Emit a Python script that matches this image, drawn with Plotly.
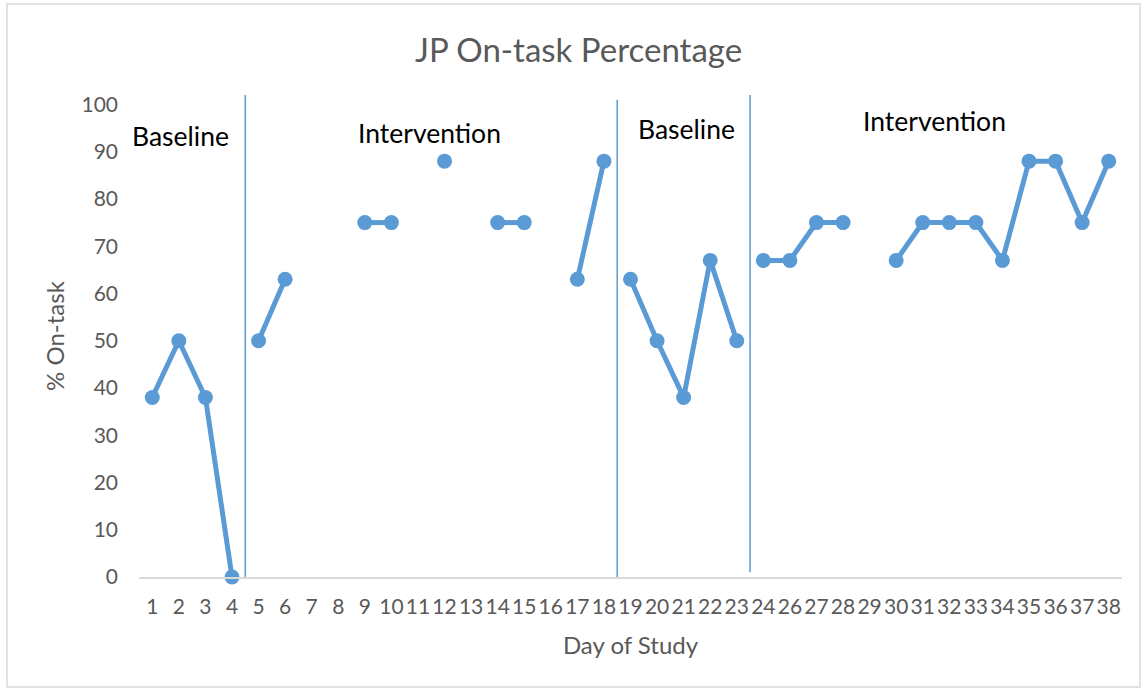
import plotly.graph_objects as go

# day labels on the category axis (day 25 is absent in the source)
days = [str(d) for d in list(range(1, 25)) + list(range(26, 39))]

# on-task percentage per phase, None = no observation
baseline1_days = ["1", "2", "3", "4"]
baseline1_vals = [38, 50, 38, 0]

intervention1_days = [str(d) for d in range(5, 19)]
intervention1_vals = [50, 63, None, None, 75, 75, None, 88, None, 75, 75, None, 63, 88]

baseline2_days = ["19", "20", "21", "22", "23"]
baseline2_vals = [63, 50, 38, 67, 50]

intervention2_days = [str(d) for d in [24, 26, 27, 28, 29, 30, 31, 32, 33, 34, 35, 36, 37, 38]]
intervention2_vals = [67, 67, 75, 75, None, 67, 75, 75, 75, 67, 88, 88, 75, 88]

phase_names = ["Baseline", "Intervention", "Baseline", "Intervention"]

BLUE = "#5b9bd5"
GREY = "#595959"
FONT = "Lato, 'Open Sans', sans-serif"

fig = go.Figure()
for xs, ys in [(baseline1_days, baseline1_vals), (intervention1_days, intervention1_vals),
               (baseline2_days, baseline2_vals), (intervention2_days, intervention2_vals)]:
    fig.add_trace(go.Scatter(
        x=xs, y=ys, mode="lines+markers", connectgaps=False, cliponaxis=False,
        line=dict(color=BLUE, width=5), marker=dict(color=BLUE, size=15),
        showlegend=False))

# phase change lines between the last day of one phase and the first of the next
line_tops = [102, 101, 102]
line_bottoms = [0, 0, 1]
for i, first_day in enumerate([intervention1_days[0], baseline2_days[0], intervention2_days[0]]):
    xpos = days.index(first_day) - 0.5
    fig.add_shape(type="line", xref="x", yref="y", x0=xpos, x1=xpos,
                  y0=line_bottoms[i], y1=line_tops[i], line=dict(color=BLUE, width=1.5))

# phase labels
label_x = [1.05, 10.45, 20.1, 29.45]
label_y = [93.4, 93.9, 94.9, 96.4]
for name, lx, ly in zip(phase_names, label_x, label_y):
    fig.add_annotation(x=lx, y=ly, xref="x", yref="y", text=name, showarrow=False,
                       font=dict(family=FONT, size=26.5, color="black"))

# light chart border
fig.add_shape(type="rect", xref="paper", yref="paper",
              x0=-0.1343, x1=1.0183, y0=-0.2282, y1=1.1888,
              line=dict(color="#d9d9d9", width=1.5), fillcolor="rgba(0,0,0,0)")

fig.update_layout(
    width=1148, height=691,
    margin=dict(l=139, r=26, t=95, b=114),
    paper_bgcolor="white", plot_bgcolor="white",
    font=dict(family=FONT, color=GREY),
    title=dict(text="JP On-task Percentage", x=0.504, xref="container", y=0.9276,
               yanchor="middle", font=dict(family=FONT, size=33, color=GREY)),
)
fig.update_xaxes(
    type="category", categoryorder="array", categoryarray=days,
    tickmode="array", tickvals=days, ticktext=days, tickangle=0,
    range=[-0.5, len(days) - 0.5],
    showgrid=False, showline=True, linecolor="#d9d9d9", linewidth=1.5,
    ticks="", ticklabelstandoff=10, tickfont=dict(size=21, color=GREY),
    title=dict(text="Day of Study", font=dict(size=24, color=GREY), standoff=20),
)
fig.update_yaxes(
    range=[0, 102], tickmode="linear", tick0=0, dtick=10,
    showgrid=False, zeroline=False, showline=False, ticks="",
    ticklabelstandoff=20, tickfont=dict(size=21, color=GREY),
    title=dict(text="% On-task", font=dict(size=24, color=GREY), standoff=10),
)

# drop the default page margin so the figure sits at the window origin
fig.write_html("out.html", config={"displayModeBar": False},
               post_script="document.body.style.margin='0px';")
